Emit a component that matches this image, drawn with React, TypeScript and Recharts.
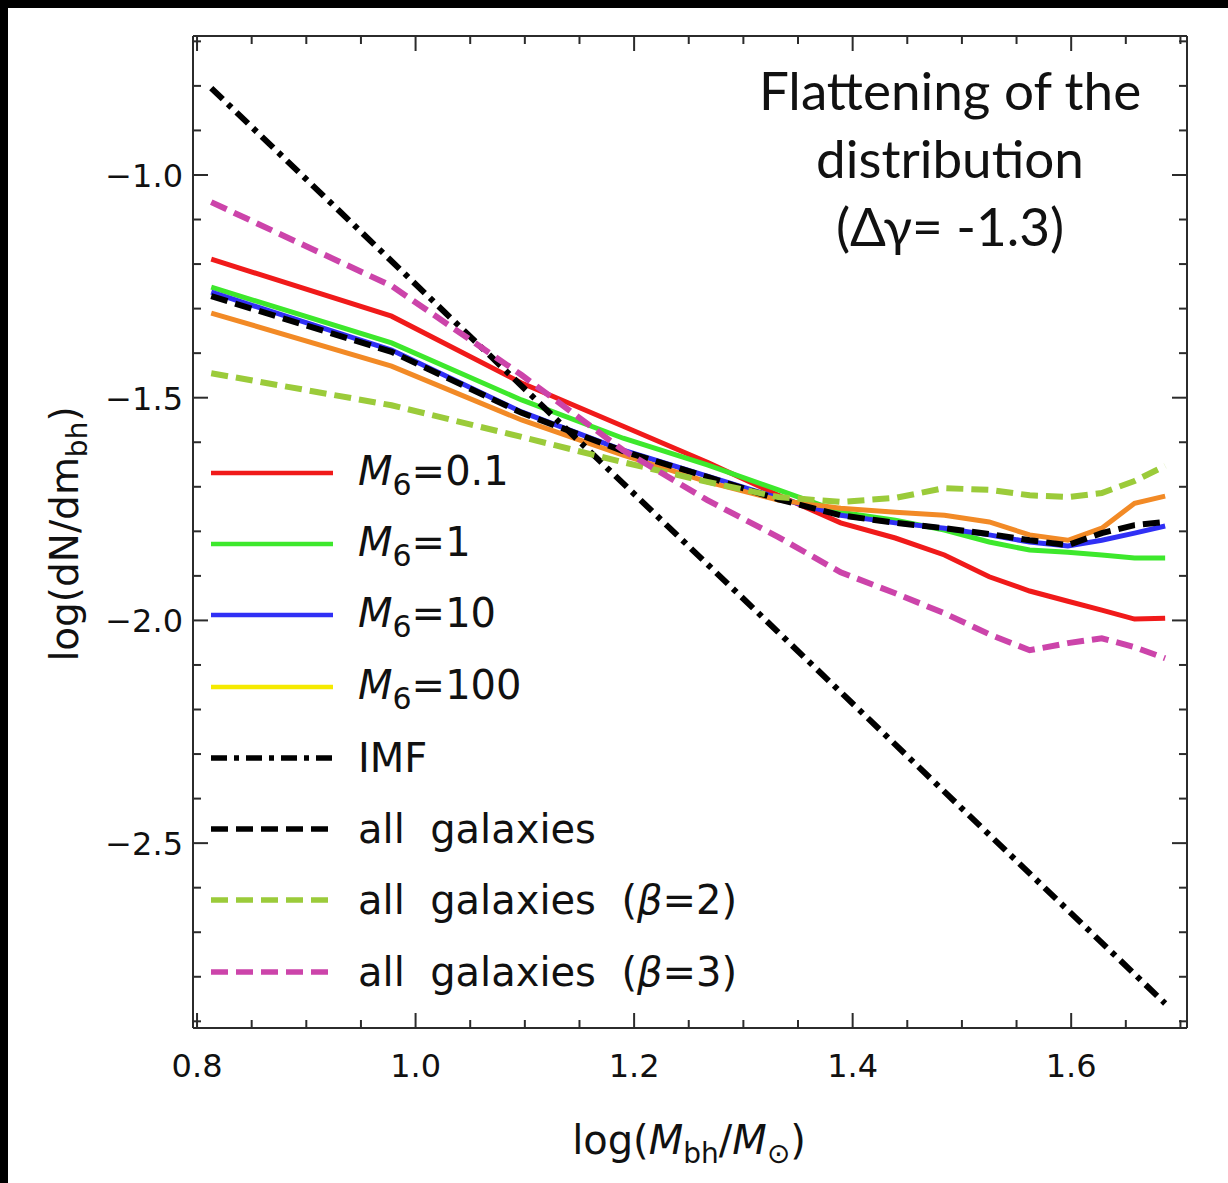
import { LineChart, Line, XAxis, YAxis, Legend } from "recharts";

// log(M_bh / M_sun) sample points shared by the simulated curves
const logM = [0.813, 0.978, 1.097, 1.19, 1.267, 1.332, 1.389, 1.439, 1.484, 1.525, 1.562, 1.597, 1.628, 1.658, 1.686];

const m6_01 = [-1.189, -1.317, -1.467, -1.564, -1.645, -1.719, -1.781, -1.815, -1.853, -1.902, -1.934, -1.957, -1.977, -1.997, -1.995];
const m6_1 = [-1.252, -1.377, -1.505, -1.591, -1.651, -1.707, -1.757, -1.775, -1.797, -1.824, -1.842, -1.847, -1.853, -1.86, -1.86];
const m6_10 = [-1.263, -1.393, -1.532, -1.618, -1.676, -1.725, -1.764, -1.781, -1.793, -1.808, -1.824, -1.833, -1.82, -1.804, -1.788];
const m6_100 = [-1.31, -1.429, -1.55, -1.629, -1.689, -1.73, -1.748, -1.757, -1.764, -1.779, -1.808, -1.82, -1.793, -1.737, -1.721];
const allGal = [-1.272, -1.397, -1.534, -1.62, -1.678, -1.728, -1.764, -1.781, -1.793, -1.806, -1.82, -1.831, -1.804, -1.786, -1.779];
const beta2 = [-1.445, -1.517, -1.588, -1.645, -1.689, -1.723, -1.734, -1.725, -1.703, -1.707, -1.719, -1.723, -1.714, -1.687, -1.653];
const beta3 = [-1.061, -1.249, -1.449, -1.618, -1.73, -1.813, -1.892, -1.939, -1.984, -2.031, -2.067, -2.051, -2.04, -2.06, -2.085];
// IMF is a straight line: only its two ends
const imfEnds = [-0.805, -2.86];

const xMajor = [0.8, 1.0, 1.2, 1.4, 1.6];
const xMinor = [0.85, 0.9, 0.95, 1.05, 1.1, 1.15, 1.25, 1.3, 1.35, 1.45, 1.5, 1.55, 1.65, 1.7];
const yMajor = [-1.0, -1.5, -2.0, -2.5];
const yMinor = [-0.7, -0.8, -0.9, -1.1, -1.2, -1.3, -1.4, -1.6, -1.7, -1.8, -1.9, -2.1, -2.2, -2.3, -2.4, -2.6, -2.7, -2.8, -2.9];

const X_DOMAIN: [number, number] = [0.7963, 1.706];
const Y_DOMAIN: [number, number] = [-2.915, -0.688];

const FRAME = "#2b2b2b";
const FONT = "'DejaVu Sans', Arial, sans-serif";

const data = logM.map((x, i) => ({
  x,
  m6_01: m6_01[i],
  m6_1: m6_1[i],
  m6_10: m6_10[i],
  m6_100: m6_100[i],
  allGal: allGal[i],
  beta2: beta2[i],
  beta3: beta3[i],
  imf: i === 0 ? imfEnds[0] : i === logM.length - 1 ? imfEnds[1] : null,
}));

const isMajor = (v: number, list: number[]) => list.some((m) => Math.abs(m - v) < 1e-6);
const xTicks = [...xMajor, ...xMinor].sort((a, b) => a - b);
const yTicks = [...yMajor, ...yMinor].sort((a, b) => a - b);

const fmt = (v: number) => (v < 0 ? "\u2212" + Math.abs(v).toFixed(1) : v.toFixed(1));

function BottomTick({ x, y, payload }: any) {
  const major = isMajor(payload.value, xMajor);
  return (
    <g>
      <line x1={x} x2={x} y1={y} y2={y - (major ? 15 : 8)} stroke={FRAME} strokeWidth={2} />
      {major && (
        <text x={x} y={y + 49} textAnchor="middle" fontFamily={FONT} fontSize={32} fill="#111">
          {fmt(payload.value)}
        </text>
      )}
    </g>
  );
}

function TopTick({ x, y, payload }: any) {
  const major = isMajor(payload.value, xMajor);
  return <line x1={x} x2={x} y1={y} y2={y + (major ? 15 : 8)} stroke={FRAME} strokeWidth={2} />;
}

function LeftTick({ x, y, payload }: any) {
  const major = isMajor(payload.value, yMajor);
  return (
    <g>
      <line x1={x} x2={x + (major ? 15 : 8)} y1={y} y2={y} stroke={FRAME} strokeWidth={2} />
      {major && (
        <text x={x - 10} y={y + 12} textAnchor="end" fontFamily={FONT} fontSize={32} fill="#111">
          {fmt(payload.value)}
        </text>
      )}
    </g>
  );
}

function RightTick({ x, y, payload }: any) {
  const major = isMajor(payload.value, yMajor);
  return <line x1={x} x2={x - (major ? 15 : 8)} y1={y} y2={y} stroke={FRAME} strokeWidth={2} />;
}

const SP = "\u00a0\u00a0";

const M6 = (v: string) => (
  <span>
    <i>M</i>
    <span style={{ fontSize: 30, position: "relative", top: 10 }}>6</span>=<span>{v}</span>
  </span>
);

const legendItems = [
  { label: M6("0.1"), color: "#f01a1a", dash: undefined, width: 4.5 },
  { label: M6("1"), color: "#3de82c", dash: undefined, width: 4.5 },
  { label: M6("10"), color: "#3030f5", dash: undefined, width: 4.5 },
  { label: M6("100"), color: "#f5ea00", dash: undefined, width: 4.5 },
  { label: <span>IMF</span>, color: "#000", dash: "16 7 5 7", width: 5.5 },
  { label: <span>all{SP}galaxies</span>, color: "#000", dash: "17 8", width: 5.5 },
  { label: <span>all{SP}galaxies{SP}(<i>β</i>=2)</span>, color: "#9bcb3a", dash: "17 8", width: 5.5 },
  { label: <span>all{SP}galaxies{SP}(<i>β</i>=3)</span>, color: "#cc44aa", dash: "17 8", width: 5.5 },
];

function LegendBox() {
  return (
    <div style={{ fontFamily: FONT, fontSize: 40, color: "#111" }}>
      {legendItems.map((it, i) => (
        <div key={i} style={{ display: "flex", alignItems: "center", height: 71.3 }}>
          <svg width={123} height={20} style={{ marginRight: 24 }}>
            <line x1={0} x2={122} y1={10} y2={10} stroke={it.color} strokeWidth={it.width} strokeDasharray={it.dash} />
          </svg>
          <div style={{ lineHeight: "42px", whiteSpace: "nowrap" }}>{it.label}</div>
        </div>
      ))}
    </div>
  );
}

const axisCommon = {
  type: "number" as const,
  allowDataOverflow: true,
  interval: 0 as const,
  tickSize: 0,
  tickMargin: 0,
  tickLine: false,
  axisLine: { stroke: FRAME, strokeWidth: 2 },
};

export default function App() {
  return (
    <div style={{ position: "absolute", left: 0, top: 0, width: 1228, height: 1183, background: "#000" }}>
      <div style={{ position: "absolute", left: 8, top: 8, width: 1220, height: 1175, background: "#fff" }} />
      <div style={{ position: "absolute", left: 0, top: 0 }}>
        <LineChart width={1228} height={1183} data={data} margin={{ left: 192, top: 35, right: 40, bottom: 154 }}>
          <XAxis {...axisCommon} dataKey="x" domain={X_DOMAIN} ticks={xTicks} height={1} tick={<BottomTick />} />
          <XAxis
            {...axisCommon}
            xAxisId="top"
            orientation="top"
            dataKey="x"
            domain={X_DOMAIN}
            ticks={xTicks}
            height={1}
            tick={<TopTick />}
          />
          <YAxis {...axisCommon} domain={Y_DOMAIN} ticks={yTicks} width={1} tick={<LeftTick />} />
          <YAxis
            {...axisCommon}
            yAxisId="right"
            orientation="right"
            domain={Y_DOMAIN}
            ticks={yTicks}
            width={1}
            tick={<RightTick />}
          />
          <Legend
            layout="vertical"
            align="center"
            verticalAlign="middle"
            content={<LegendBox />}
            wrapperStyle={{ position: "absolute", left: 211, top: 437, width: 600 }}
          />
          <Line dataKey="m6_01" stroke="#f01a1a" strokeWidth={5} dot={false} isAnimationActive={false} />
          <Line dataKey="m6_1" stroke="#3de82c" strokeWidth={5} dot={false} isAnimationActive={false} />
          <Line dataKey="m6_10" stroke="#3030f5" strokeWidth={5} dot={false} isAnimationActive={false} />
          <Line dataKey="m6_100" stroke="#f28a26" strokeWidth={5} dot={false} isAnimationActive={false} />
          <Line dataKey="imf" stroke="#000" strokeWidth={6} strokeDasharray="16 7 5 7" connectNulls dot={false} isAnimationActive={false} />
          <Line dataKey="allGal" stroke="#000" strokeWidth={6} strokeDasharray="17 8" dot={false} isAnimationActive={false} />
          <Line dataKey="beta2" stroke="#9bcb3a" strokeWidth={6} strokeDasharray="17 8" dot={false} isAnimationActive={false} />
          <Line dataKey="beta3" stroke="#cc44aa" strokeWidth={6} strokeDasharray="17 8" dot={false} isAnimationActive={false} />
        </LineChart>
      </div>
      <div
        style={{
          position: "absolute",
          left: 700,
          top: 56,
          width: 500,
          textAlign: "center",
          fontFamily: "Lato, 'Open Sans', sans-serif",
          fontSize: 53,
          lineHeight: "68px",
          color: "#111",
        }}
      >
        Flattening of the
        <br />
        distribution
        <br />
        (Δγ= -1.3)
      </div>
      <div
        style={{
          position: "absolute",
          left: 64,
          top: 534,
          transform: "translate(-50%, -50%) rotate(-90deg)",
          fontFamily: FONT,
          fontSize: 39,
          whiteSpace: "nowrap",
          color: "#111",
        }}
      >
        log(dN/dm<span style={{ fontSize: 28, position: "relative", top: 9 }}>bh</span>)
      </div>
      <div
        style={{
          position: "absolute",
          left: 689,
          top: 1140,
          transform: "translate(-50%, -50%)",
          fontFamily: FONT,
          fontSize: 40,
          whiteSpace: "nowrap",
          color: "#111",
        }}
      >
        log(<i>M</i>
        <span style={{ fontSize: 28, position: "relative", top: 9 }}>bh</span>/<i>M</i>
        <span style={{ fontSize: 28, position: "relative", top: 9 }}>⊙</span>)
      </div>
    </div>
  );
}
